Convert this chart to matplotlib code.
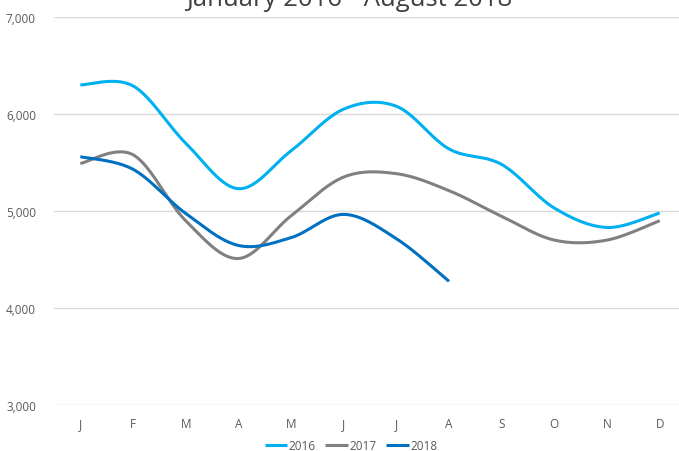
import numpy as np
import matplotlib
matplotlib.use("Agg")
import matplotlib.pyplot as plt

months = ["J", "F", "M", "A", "M", "J", "J", "A", "S", "O", "N", "D"]
s2016 = [6300, 6290, 5700, 5230, 5620, 6050, 6080, 5640, 5480, 5030, 4830, 4980]
s2017 = [5490, 5580, 4900, 4510, 4950, 5350, 5385, 5210, 4945, 4700, 4700, 4900]
s2018 = [5560, 5430, 4975, 4645, 4725, 4965, 4715, 4275]
series = [("2016", s2016, "#00B0F0"), ("2017", s2017, "#808080"), ("2018", s2018, "#0070C0")]
yticks = [3000, 4000, 5000, 6000, 7000]
title = "January 2016 - August 2018"

plt.rcParams['font.family'] = ['Open Sans', 'DejaVu Sans']


def smooth(x, y, n=40):
    x = np.asarray(x, float)
    y = np.asarray(y, float)
    px = np.concatenate([[x[0]], x, [x[-1]]])
    py = np.concatenate([[y[0]], y, [y[-1]]])
    xs, ys = [], []
    t = np.linspace(0, 1, n)
    for i in range(1, len(px) - 2):
        p0 = np.array([px[i], py[i]])
        p3 = np.array([px[i + 1], py[i + 1]])
        c1 = p0 + (np.array([px[i + 1], py[i + 1]]) - np.array([px[i - 1], py[i - 1]])) / 6
        c2 = p3 - (np.array([px[i + 2], py[i + 2]]) - np.array([px[i], py[i]])) / 6
        b = ((1 - t) ** 3)[:, None] * p0 + (3 * (1 - t) ** 2 * t)[:, None] * c1 \
            + (3 * (1 - t) * t ** 2)[:, None] * c2 + (t ** 3)[:, None] * p3
        xs.extend(b[:, 0]); ys.extend(b[:, 1])
    return np.array(xs), np.array(ys)


fig = plt.figure(figsize=(6.79, 4.52), dpi=100)
ax = fig.add_axes([54 / 679, 46 / 452, 632 / 679, 388 / 452])

for name, vals, col in series:
    xs, ys = smooth(np.arange(len(vals)), vals)
    ax.plot(xs, ys, color=col, lw=2.2, label=name, solid_capstyle='butt')

ax.set_xlim(-0.5, 11.5)
ax.set_ylim(3000, 7000)
ax.set_yticks(yticks)
ax.set_yticklabels([f"{v:,}" for v in yticks])
ax.set_xticks(range(12))
ax.set_xticklabels(months)
ax.grid(axis='y', color='#D9D9D9', lw=1)
ax.set_axisbelow(True)
for s in ax.spines.values():
    s.set_visible(False)
ax.tick_params(length=0, colors='#595959', labelsize=8.5)
ax.tick_params(axis='y', pad=13)
ax.tick_params(axis='x', pad=9)

fig.text(349 / 679, 1 - 6 / 452, title, ha='center', va='baseline', fontsize=18.5, color='#404040')

fig.legend(loc='center', bbox_to_anchor=(351 / 679, 1 - 447 / 452), ncol=3, frameon=False,
           fontsize=8.5, handlelength=1.9, handletextpad=0.15, columnspacing=0.8,
           labelcolor='#595959')

fig.savefig("out.png", dpi=100)
